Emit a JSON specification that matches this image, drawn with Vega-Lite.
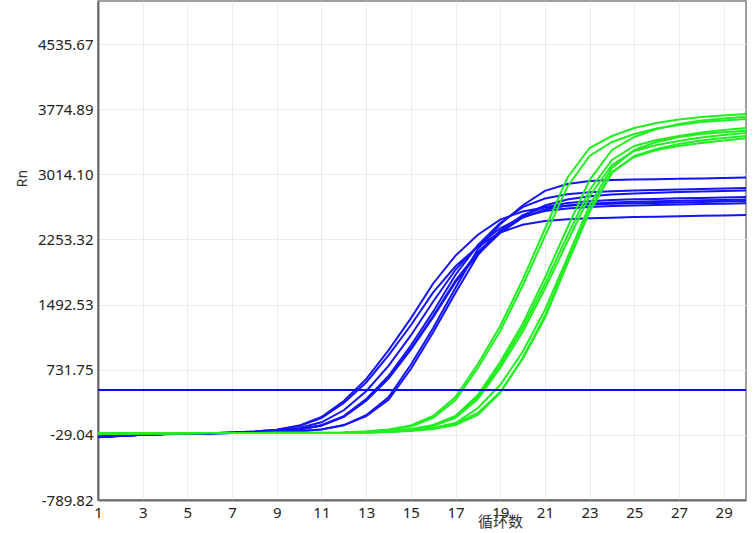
{
"$schema": "https://vega.github.io/schema/vega-lite/v6.json",
"width": 648, "height": 499,
"autosize": {"type": "none"},
"padding": {"left": 98, "top": 1, "right": 9, "bottom": 33},
"background": "white",
"config": {"view": {"stroke": "#808080", "strokeWidth": 1.5}, "font": "Noto Sans"},
"layer": [
{"data": {"values": [
{"s":"B1","g":"b","c":1,"v":-54},{"s":"B1","g":"b","c":2,"v":-40},{"s":"B1","g":"b","c":3,"v":-28},{"s":"B1","g":"b","c":4,"v":-20},{"s":"B1","g":"b","c":5,"v":-14},{"s":"B1","g":"b","c":6,"v":-9},{"s":"B1","g":"b","c":7,"v":-1},{"s":"B1","g":"b","c":8,"v":11},{"s":"B1","g":"b","c":9,"v":32},{"s":"B1","g":"b","c":10,"v":79},{"s":"B1","g":"b","c":11,"v":179},{"s":"B1","g":"b","c":12,"v":366},{"s":"B1","g":"b","c":13,"v":621},{"s":"B1","g":"b","c":14,"v":958},{"s":"B1","g":"b","c":15,"v":1332},{"s":"B1","g":"b","c":16,"v":1739},{"s":"B1","g":"b","c":17,"v":2064},{"s":"B1","g":"b","c":18,"v":2309},{"s":"B1","g":"b","c":19,"v":2485},{"s":"B1","g":"b","c":20,"v":2580},{"s":"B1","g":"b","c":21,"v":2626},{"s":"B1","g":"b","c":22,"v":2648},{"s":"B1","g":"b","c":23,"v":2661},{"s":"B1","g":"b","c":24,"v":2669},{"s":"B1","g":"b","c":25,"v":2675},{"s":"B1","g":"b","c":26,"v":2680},{"s":"B1","g":"b","c":27,"v":2686},{"s":"B1","g":"b","c":28,"v":2691},{"s":"B1","g":"b","c":29,"v":2697},{"s":"B1","g":"b","c":30,"v":2702},
{"s":"B2","g":"b","c":1,"v":-52},{"s":"B2","g":"b","c":2,"v":-39},{"s":"B2","g":"b","c":3,"v":-27},{"s":"B2","g":"b","c":4,"v":-20},{"s":"B2","g":"b","c":5,"v":-14},{"s":"B2","g":"b","c":6,"v":-9},{"s":"B2","g":"b","c":7,"v":-1},{"s":"B2","g":"b","c":8,"v":9},{"s":"B2","g":"b","c":9,"v":30},{"s":"B2","g":"b","c":10,"v":73},{"s":"B2","g":"b","c":11,"v":168},{"s":"B2","g":"b","c":12,"v":344},{"s":"B2","g":"b","c":13,"v":583},{"s":"B2","g":"b","c":14,"v":899},{"s":"B2","g":"b","c":15,"v":1251},{"s":"B2","g":"b","c":16,"v":1634},{"s":"B2","g":"b","c":17,"v":1940},{"s":"B2","g":"b","c":18,"v":2169},{"s":"B2","g":"b","c":19,"v":2335},{"s":"B2","g":"b","c":20,"v":2424},{"s":"B2","g":"b","c":21,"v":2468},{"s":"B2","g":"b","c":22,"v":2488},{"s":"B2","g":"b","c":23,"v":2501},{"s":"B2","g":"b","c":24,"v":2508},{"s":"B2","g":"b","c":25,"v":2514},{"s":"B2","g":"b","c":26,"v":2519},{"s":"B2","g":"b","c":27,"v":2524},{"s":"B2","g":"b","c":28,"v":2529},{"s":"B2","g":"b","c":29,"v":2534},{"s":"B2","g":"b","c":30,"v":2539},
{"s":"B8","g":"b","c":1,"v":-56},{"s":"B8","g":"b","c":2,"v":-41},{"s":"B8","g":"b","c":3,"v":-29},{"s":"B8","g":"b","c":4,"v":-21},{"s":"B8","g":"b","c":5,"v":-15},{"s":"B8","g":"b","c":6,"v":-10},{"s":"B8","g":"b","c":7,"v":-5},{"s":"B8","g":"b","c":8,"v":5},{"s":"B8","g":"b","c":9,"v":19},{"s":"B8","g":"b","c":10,"v":51},{"s":"B8","g":"b","c":11,"v":118},{"s":"B8","g":"b","c":12,"v":258},{"s":"B8","g":"b","c":13,"v":481},{"s":"B8","g":"b","c":14,"v":777},{"s":"B8","g":"b","c":15,"v":1132},{"s":"B8","g":"b","c":16,"v":1528},{"s":"B8","g":"b","c":17,"v":1899},{"s":"B8","g":"b","c":18,"v":2181},{"s":"B8","g":"b","c":19,"v":2383},{"s":"B8","g":"b","c":20,"v":2518},{"s":"B8","g":"b","c":21,"v":2585},{"s":"B8","g":"b","c":22,"v":2614},{"s":"B8","g":"b","c":23,"v":2633},{"s":"B8","g":"b","c":24,"v":2644},{"s":"B8","g":"b","c":25,"v":2649},{"s":"B8","g":"b","c":26,"v":2655},{"s":"B8","g":"b","c":27,"v":2660},{"s":"B8","g":"b","c":28,"v":2666},{"s":"B8","g":"b","c":29,"v":2671},{"s":"B8","g":"b","c":30,"v":2676},
{"s":"B3","g":"b","c":1,"v":-53},{"s":"B3","g":"b","c":2,"v":-40},{"s":"B3","g":"b","c":3,"v":-28},{"s":"B3","g":"b","c":4,"v":-20},{"s":"B3","g":"b","c":5,"v":-14},{"s":"B3","g":"b","c":6,"v":-9},{"s":"B3","g":"b","c":7,"v":-6},{"s":"B3","g":"b","c":8,"v":0},{"s":"B3","g":"b","c":9,"v":12},{"s":"B3","g":"b","c":10,"v":35},{"s":"B3","g":"b","c":11,"v":84},{"s":"B3","g":"b","c":12,"v":190},{"s":"B3","g":"b","c":13,"v":388},{"s":"B3","g":"b","c":14,"v":658},{"s":"B3","g":"b","c":15,"v":1014},{"s":"B3","g":"b","c":16,"v":1410},{"s":"B3","g":"b","c":17,"v":1841},{"s":"B3","g":"b","c":18,"v":2185},{"s":"B3","g":"b","c":19,"v":2444},{"s":"B3","g":"b","c":20,"v":2630},{"s":"B3","g":"b","c":21,"v":2731},{"s":"B3","g":"b","c":22,"v":2780},{"s":"B3","g":"b","c":23,"v":2803},{"s":"B3","g":"b","c":24,"v":2817},{"s":"B3","g":"b","c":25,"v":2826},{"s":"B3","g":"b","c":26,"v":2831},{"s":"B3","g":"b","c":27,"v":2837},{"s":"B3","g":"b","c":28,"v":2843},{"s":"B3","g":"b","c":29,"v":2849},{"s":"B3","g":"b","c":30,"v":2854},
{"s":"B4","g":"b","c":1,"v":-55},{"s":"B4","g":"b","c":2,"v":-41},{"s":"B4","g":"b","c":3,"v":-28},{"s":"B4","g":"b","c":4,"v":-20},{"s":"B4","g":"b","c":5,"v":-14},{"s":"B4","g":"b","c":6,"v":-9},{"s":"B4","g":"b","c":7,"v":-6},{"s":"B4","g":"b","c":8,"v":0},{"s":"B4","g":"b","c":9,"v":11},{"s":"B4","g":"b","c":10,"v":33},{"s":"B4","g":"b","c":11,"v":80},{"s":"B4","g":"b","c":12,"v":183},{"s":"B4","g":"b","c":13,"v":374},{"s":"B4","g":"b","c":14,"v":634},{"s":"B4","g":"b","c":15,"v":977},{"s":"B4","g":"b","c":16,"v":1358},{"s":"B4","g":"b","c":17,"v":1773},{"s":"B4","g":"b","c":18,"v":2105},{"s":"B4","g":"b","c":19,"v":2354},{"s":"B4","g":"b","c":20,"v":2534},{"s":"B4","g":"b","c":21,"v":2631},{"s":"B4","g":"b","c":22,"v":2678},{"s":"B4","g":"b","c":23,"v":2700},{"s":"B4","g":"b","c":24,"v":2714},{"s":"B4","g":"b","c":25,"v":2722},{"s":"B4","g":"b","c":26,"v":2727},{"s":"B4","g":"b","c":27,"v":2733},{"s":"B4","g":"b","c":28,"v":2738},{"s":"B4","g":"b","c":29,"v":2744},{"s":"B4","g":"b","c":30,"v":2750},
{"s":"B5","g":"b","c":1,"v":-51},{"s":"B5","g":"b","c":2,"v":-39},{"s":"B5","g":"b","c":3,"v":-27},{"s":"B5","g":"b","c":4,"v":-20},{"s":"B5","g":"b","c":5,"v":-14},{"s":"B5","g":"b","c":6,"v":-9},{"s":"B5","g":"b","c":7,"v":-6},{"s":"B5","g":"b","c":8,"v":0},{"s":"B5","g":"b","c":9,"v":11},{"s":"B5","g":"b","c":10,"v":33},{"s":"B5","g":"b","c":11,"v":79},{"s":"B5","g":"b","c":12,"v":181},{"s":"B5","g":"b","c":13,"v":369},{"s":"B5","g":"b","c":14,"v":627},{"s":"B5","g":"b","c":15,"v":966},{"s":"B5","g":"b","c":16,"v":1344},{"s":"B5","g":"b","c":17,"v":1754},{"s":"B5","g":"b","c":18,"v":2083},{"s":"B5","g":"b","c":19,"v":2329},{"s":"B5","g":"b","c":20,"v":2507},{"s":"B5","g":"b","c":21,"v":2603},{"s":"B5","g":"b","c":22,"v":2649},{"s":"B5","g":"b","c":23,"v":2671},{"s":"B5","g":"b","c":24,"v":2685},{"s":"B5","g":"b","c":25,"v":2693},{"s":"B5","g":"b","c":26,"v":2699},{"s":"B5","g":"b","c":27,"v":2704},{"s":"B5","g":"b","c":28,"v":2710},{"s":"B5","g":"b","c":29,"v":2715},{"s":"B5","g":"b","c":30,"v":2721},
{"s":"B6","g":"b","c":1,"v":-54},{"s":"B6","g":"b","c":2,"v":-40},{"s":"B6","g":"b","c":3,"v":-28},{"s":"B6","g":"b","c":4,"v":-20},{"s":"B6","g":"b","c":5,"v":-14},{"s":"B6","g":"b","c":6,"v":-9},{"s":"B6","g":"b","c":7,"v":-6},{"s":"B6","g":"b","c":8,"v":-4},{"s":"B6","g":"b","c":9,"v":0},{"s":"B6","g":"b","c":10,"v":12},{"s":"B6","g":"b","c":11,"v":35},{"s":"B6","g":"b","c":12,"v":85},{"s":"B6","g":"b","c":13,"v":200},{"s":"B6","g":"b","c":14,"v":410},{"s":"B6","g":"b","c":15,"v":790},{"s":"B6","g":"b","c":16,"v":1220},{"s":"B6","g":"b","c":17,"v":1690},{"s":"B6","g":"b","c":18,"v":2140},{"s":"B6","g":"b","c":19,"v":2430},{"s":"B6","g":"b","c":20,"v":2650},{"s":"B6","g":"b","c":21,"v":2820},{"s":"B6","g":"b","c":22,"v":2900},{"s":"B6","g":"b","c":23,"v":2935},{"s":"B6","g":"b","c":24,"v":2948},{"s":"B6","g":"b","c":25,"v":2953},{"s":"B6","g":"b","c":26,"v":2957},{"s":"B6","g":"b","c":27,"v":2962},{"s":"B6","g":"b","c":28,"v":2966},{"s":"B6","g":"b","c":29,"v":2971},{"s":"B6","g":"b","c":30,"v":2976},
{"s":"B7","g":"b","c":1,"v":-53},{"s":"B7","g":"b","c":2,"v":-40},{"s":"B7","g":"b","c":3,"v":-28},{"s":"B7","g":"b","c":4,"v":-20},{"s":"B7","g":"b","c":5,"v":-14},{"s":"B7","g":"b","c":6,"v":-9},{"s":"B7","g":"b","c":7,"v":-6},{"s":"B7","g":"b","c":8,"v":-4},{"s":"B7","g":"b","c":9,"v":0},{"s":"B7","g":"b","c":10,"v":12},{"s":"B7","g":"b","c":11,"v":34},{"s":"B7","g":"b","c":12,"v":82},{"s":"B7","g":"b","c":13,"v":190},{"s":"B7","g":"b","c":14,"v":380},{"s":"B7","g":"b","c":15,"v":740},{"s":"B7","g":"b","c":16,"v":1170},{"s":"B7","g":"b","c":17,"v":1630},{"s":"B7","g":"b","c":18,"v":2070},{"s":"B7","g":"b","c":19,"v":2350},{"s":"B7","g":"b","c":20,"v":2530},{"s":"B7","g":"b","c":21,"v":2650},{"s":"B7","g":"b","c":22,"v":2720},{"s":"B7","g":"b","c":23,"v":2758},{"s":"B7","g":"b","c":24,"v":2778},{"s":"B7","g":"b","c":25,"v":2791},{"s":"B7","g":"b","c":26,"v":2800},{"s":"B7","g":"b","c":27,"v":2807},{"s":"B7","g":"b","c":28,"v":2813},{"s":"B7","g":"b","c":29,"v":2819},{"s":"B7","g":"b","c":30,"v":2825},
{"s":"G1","g":"g","c":1,"v":-15},{"s":"G1","g":"g","c":2,"v":-12},{"s":"G1","g":"g","c":3,"v":-10},{"s":"G1","g":"g","c":4,"v":-9},{"s":"G1","g":"g","c":5,"v":-8},{"s":"G1","g":"g","c":6,"v":-8},{"s":"G1","g":"g","c":7,"v":-7},{"s":"G1","g":"g","c":8,"v":-6},{"s":"G1","g":"g","c":9,"v":-5},{"s":"G1","g":"g","c":10,"v":-4},{"s":"G1","g":"g","c":11,"v":-3},{"s":"G1","g":"g","c":12,"v":-1},{"s":"G1","g":"g","c":13,"v":10},{"s":"G1","g":"g","c":14,"v":34},{"s":"G1","g":"g","c":15,"v":80},{"s":"G1","g":"g","c":16,"v":191},{"s":"G1","g":"g","c":17,"v":413},{"s":"G1","g":"g","c":18,"v":798},{"s":"G1","g":"g","c":19,"v":1242},{"s":"G1","g":"g","c":20,"v":1780},{"s":"G1","g":"g","c":21,"v":2375},{"s":"G1","g":"g","c":22,"v":2971},{"s":"G1","g":"g","c":23,"v":3321},{"s":"G1","g":"g","c":24,"v":3461},{"s":"G1","g":"g","c":25,"v":3555},{"s":"G1","g":"g","c":26,"v":3613},{"s":"G1","g":"g","c":27,"v":3654},{"s":"G1","g":"g","c":28,"v":3683},{"s":"G1","g":"g","c":29,"v":3701},{"s":"G1","g":"g","c":30,"v":3718},
{"s":"G2","g":"g","c":1,"v":-13},{"s":"G2","g":"g","c":2,"v":-11},{"s":"G2","g":"g","c":3,"v":-9},{"s":"G2","g":"g","c":4,"v":-9},{"s":"G2","g":"g","c":5,"v":-8},{"s":"G2","g":"g","c":6,"v":-7},{"s":"G2","g":"g","c":7,"v":-7},{"s":"G2","g":"g","c":8,"v":-6},{"s":"G2","g":"g","c":9,"v":-5},{"s":"G2","g":"g","c":10,"v":-4},{"s":"G2","g":"g","c":11,"v":-3},{"s":"G2","g":"g","c":12,"v":-1},{"s":"G2","g":"g","c":13,"v":10},{"s":"G2","g":"g","c":14,"v":28},{"s":"G2","g":"g","c":15,"v":69},{"s":"G2","g":"g","c":16,"v":168},{"s":"G2","g":"g","c":17,"v":378},{"s":"G2","g":"g","c":18,"v":752},{"s":"G2","g":"g","c":19,"v":1184},{"s":"G2","g":"g","c":20,"v":1710},{"s":"G2","g":"g","c":21,"v":2293},{"s":"G2","g":"g","c":22,"v":2866},{"s":"G2","g":"g","c":23,"v":3228},{"s":"G2","g":"g","c":24,"v":3391},{"s":"G2","g":"g","c":25,"v":3485},{"s":"G2","g":"g","c":26,"v":3549},{"s":"G2","g":"g","c":27,"v":3590},{"s":"G2","g":"g","c":28,"v":3625},{"s":"G2","g":"g","c":29,"v":3642},{"s":"G2","g":"g","c":30,"v":3660},
{"s":"G3","g":"g","c":1,"v":-14},{"s":"G3","g":"g","c":2,"v":-12},{"s":"G3","g":"g","c":3,"v":-10},{"s":"G3","g":"g","c":4,"v":-9},{"s":"G3","g":"g","c":5,"v":-9},{"s":"G3","g":"g","c":6,"v":-8},{"s":"G3","g":"g","c":7,"v":-8},{"s":"G3","g":"g","c":8,"v":-7},{"s":"G3","g":"g","c":9,"v":-7},{"s":"G3","g":"g","c":10,"v":-6},{"s":"G3","g":"g","c":11,"v":-6},{"s":"G3","g":"g","c":12,"v":-5},{"s":"G3","g":"g","c":13,"v":4},{"s":"G3","g":"g","c":14,"v":16},{"s":"G3","g":"g","c":15,"v":39},{"s":"G3","g":"g","c":16,"v":86},{"s":"G3","g":"g","c":17,"v":191},{"s":"G3","g":"g","c":18,"v":436},{"s":"G3","g":"g","c":19,"v":822},{"s":"G3","g":"g","c":20,"v":1266},{"s":"G3","g":"g","c":21,"v":1803},{"s":"G3","g":"g","c":22,"v":2387},{"s":"G3","g":"g","c":23,"v":2947},{"s":"G3","g":"g","c":24,"v":3298},{"s":"G3","g":"g","c":25,"v":3450},{"s":"G3","g":"g","c":26,"v":3543},{"s":"G3","g":"g","c":27,"v":3601},{"s":"G3","g":"g","c":28,"v":3642},{"s":"G3","g":"g","c":29,"v":3666},{"s":"G3","g":"g","c":30,"v":3687},
{"s":"G4","g":"g","c":1,"v":-16},{"s":"G4","g":"g","c":2,"v":-12},{"s":"G4","g":"g","c":3,"v":-10},{"s":"G4","g":"g","c":4,"v":-9},{"s":"G4","g":"g","c":5,"v":-9},{"s":"G4","g":"g","c":6,"v":-8},{"s":"G4","g":"g","c":7,"v":-8},{"s":"G4","g":"g","c":8,"v":-7},{"s":"G4","g":"g","c":9,"v":-7},{"s":"G4","g":"g","c":10,"v":-6},{"s":"G4","g":"g","c":11,"v":-6},{"s":"G4","g":"g","c":12,"v":-5},{"s":"G4","g":"g","c":13,"v":4},{"s":"G4","g":"g","c":14,"v":16},{"s":"G4","g":"g","c":15,"v":34},{"s":"G4","g":"g","c":16,"v":80},{"s":"G4","g":"g","c":17,"v":180},{"s":"G4","g":"g","c":18,"v":413},{"s":"G4","g":"g","c":19,"v":787},{"s":"G4","g":"g","c":20,"v":1219},{"s":"G4","g":"g","c":21,"v":1733},{"s":"G4","g":"g","c":22,"v":2293},{"s":"G4","g":"g","c":23,"v":2831},{"s":"G4","g":"g","c":24,"v":3181},{"s":"G4","g":"g","c":25,"v":3345},{"s":"G4","g":"g","c":26,"v":3415},{"s":"G4","g":"g","c":27,"v":3461},{"s":"G4","g":"g","c":28,"v":3502},{"s":"G4","g":"g","c":29,"v":3531},{"s":"G4","g":"g","c":30,"v":3555},
{"s":"G5","g":"g","c":1,"v":-14},{"s":"G5","g":"g","c":2,"v":-11},{"s":"G5","g":"g","c":3,"v":-10},{"s":"G5","g":"g","c":4,"v":-9},{"s":"G5","g":"g","c":5,"v":-8},{"s":"G5","g":"g","c":6,"v":-8},{"s":"G5","g":"g","c":7,"v":-8},{"s":"G5","g":"g","c":8,"v":-7},{"s":"G5","g":"g","c":9,"v":-7},{"s":"G5","g":"g","c":10,"v":-6},{"s":"G5","g":"g","c":11,"v":-6},{"s":"G5","g":"g","c":12,"v":-5},{"s":"G5","g":"g","c":13,"v":4},{"s":"G5","g":"g","c":14,"v":14},{"s":"G5","g":"g","c":15,"v":30},{"s":"G5","g":"g","c":16,"v":74},{"s":"G5","g":"g","c":17,"v":168},{"s":"G5","g":"g","c":18,"v":390},{"s":"G5","g":"g","c":19,"v":752},{"s":"G5","g":"g","c":20,"v":1172},{"s":"G5","g":"g","c":21,"v":1674},{"s":"G5","g":"g","c":22,"v":2223},{"s":"G5","g":"g","c":23,"v":2761},{"s":"G5","g":"g","c":24,"v":3123},{"s":"G5","g":"g","c":25,"v":3286},{"s":"G5","g":"g","c":26,"v":3356},{"s":"G5","g":"g","c":27,"v":3403},{"s":"G5","g":"g","c":28,"v":3444},{"s":"G5","g":"g","c":29,"v":3473},{"s":"G5","g":"g","c":30,"v":3496},
{"s":"G6","g":"g","c":1,"v":-15},{"s":"G6","g":"g","c":2,"v":-12},{"s":"G6","g":"g","c":3,"v":-10},{"s":"G6","g":"g","c":4,"v":-9},{"s":"G6","g":"g","c":5,"v":-9},{"s":"G6","g":"g","c":6,"v":-8},{"s":"G6","g":"g","c":7,"v":-8},{"s":"G6","g":"g","c":8,"v":-8},{"s":"G6","g":"g","c":9,"v":-7},{"s":"G6","g":"g","c":10,"v":-7},{"s":"G6","g":"g","c":11,"v":-7},{"s":"G6","g":"g","c":12,"v":-7},{"s":"G6","g":"g","c":13,"v":-1},{"s":"G6","g":"g","c":14,"v":7},{"s":"G6","g":"g","c":15,"v":22},{"s":"G6","g":"g","c":16,"v":51},{"s":"G6","g":"g","c":17,"v":109},{"s":"G6","g":"g","c":18,"v":285},{"s":"G6","g":"g","c":19,"v":553},{"s":"G6","g":"g","c":20,"v":939},{"s":"G6","g":"g","c":21,"v":1429},{"s":"G6","g":"g","c":22,"v":2036},{"s":"G6","g":"g","c":23,"v":2655},{"s":"G6","g":"g","c":24,"v":3088},{"s":"G6","g":"g","c":25,"v":3298},{"s":"G6","g":"g","c":26,"v":3391},{"s":"G6","g":"g","c":27,"v":3450},{"s":"G6","g":"g","c":28,"v":3485},{"s":"G6","g":"g","c":29,"v":3505},{"s":"G6","g":"g","c":30,"v":3523},
{"s":"G7","g":"g","c":1,"v":-14},{"s":"G7","g":"g","c":2,"v":-12},{"s":"G7","g":"g","c":3,"v":-10},{"s":"G7","g":"g","c":4,"v":-9},{"s":"G7","g":"g","c":5,"v":-9},{"s":"G7","g":"g","c":6,"v":-8},{"s":"G7","g":"g","c":7,"v":-8},{"s":"G7","g":"g","c":8,"v":-8},{"s":"G7","g":"g","c":9,"v":-7},{"s":"G7","g":"g","c":10,"v":-7},{"s":"G7","g":"g","c":11,"v":-7},{"s":"G7","g":"g","c":12,"v":-7},{"s":"G7","g":"g","c":13,"v":-1},{"s":"G7","g":"g","c":14,"v":7},{"s":"G7","g":"g","c":15,"v":22},{"s":"G7","g":"g","c":16,"v":49},{"s":"G7","g":"g","c":17,"v":104},{"s":"G7","g":"g","c":18,"v":226},{"s":"G7","g":"g","c":19,"v":472},{"s":"G7","g":"g","c":20,"v":857},{"s":"G7","g":"g","c":21,"v":1336},{"s":"G7","g":"g","c":22,"v":1966},{"s":"G7","g":"g","c":23,"v":2574},{"s":"G7","g":"g","c":24,"v":3029},{"s":"G7","g":"g","c":25,"v":3228},{"s":"G7","g":"g","c":26,"v":3310},{"s":"G7","g":"g","c":27,"v":3368},{"s":"G7","g":"g","c":28,"v":3409},{"s":"G7","g":"g","c":29,"v":3438},{"s":"G7","g":"g","c":30,"v":3461},
{"s":"G8","g":"g","c":1,"v":-13},{"s":"G8","g":"g","c":2,"v":-11},{"s":"G8","g":"g","c":3,"v":-10},{"s":"G8","g":"g","c":4,"v":-9},{"s":"G8","g":"g","c":5,"v":-9},{"s":"G8","g":"g","c":6,"v":-8},{"s":"G8","g":"g","c":7,"v":-8},{"s":"G8","g":"g","c":8,"v":-8},{"s":"G8","g":"g","c":9,"v":-7},{"s":"G8","g":"g","c":10,"v":-7},{"s":"G8","g":"g","c":11,"v":-7},{"s":"G8","g":"g","c":12,"v":-7},{"s":"G8","g":"g","c":13,"v":-3},{"s":"G8","g":"g","c":14,"v":4},{"s":"G8","g":"g","c":15,"v":16},{"s":"G8","g":"g","c":16,"v":39},{"s":"G8","g":"g","c":17,"v":86},{"s":"G8","g":"g","c":18,"v":203},{"s":"G8","g":"g","c":19,"v":460},{"s":"G8","g":"g","c":20,"v":869},{"s":"G8","g":"g","c":21,"v":1359},{"s":"G8","g":"g","c":22,"v":1990},{"s":"G8","g":"g","c":23,"v":2597},{"s":"G8","g":"g","c":24,"v":3041},{"s":"G8","g":"g","c":25,"v":3216},{"s":"G8","g":"g","c":26,"v":3298},{"s":"G8","g":"g","c":27,"v":3345},{"s":"G8","g":"g","c":28,"v":3380},{"s":"G8","g":"g","c":29,"v":3409},{"s":"G8","g":"g","c":30,"v":3434}
]},
"mark": {"type": "line", "strokeWidth": 2, "clip": true},
"encoding": {
"x": {"field": "c", "type": "quantitative", "scale": {"domain": [1, 30], "nice": false, "zero": false},
"axis": {"values": [1,3,5,7,9,11,13,15,17,19,21,23,25,27,29], "format": "d", "title": "循环数", "titleX": 402, "titleY": 21, "titleBaseline": "middle", "titleFont": "Noto Sans CJK SC", "titleFontSize": 15, "titleFontWeight": "normal", "titleColor": "#333333", "labelFontSize": 15, "labelColor": "#222222", "labelPadding": 5, "ticks": false, "tickSize": 0, "domainColor": "#6b6b6b", "domainWidth": 2, "gridColor": "#ebebeb", "gridWidth": 1, "labelFlush": false, "labelOverlap": false}},
"y": {"field": "v", "type": "quantitative", "scale": {"domain": [-789.82, 5038], "nice": false, "zero": false},
"axis": {"values": [-789.82, -29.04, 731.75, 1492.53, 2253.32, 3014.10, 3774.89, 4535.67], "labelExpr": "replace(format(datum.value, '.2f'), '\u2212', '-')", "title": "Rn", "titleX": -76, "titleY": 177, "titleBaseline": "middle", "titleFontSize": 14, "titleFontWeight": "normal", "titleColor": "#333333", "labelFontSize": 15, "labelColor": "#222222", "labelPadding": 5, "ticks": false, "tickSize": 0, "domainColor": "#6b6b6b", "domainWidth": 2, "gridColor": "#ebebeb", "gridWidth": 1, "labelFlush": false, "labelOverlap": false}},
"color": {"field": "g", "type": "nominal", "scale": {"domain": ["b", "g"], "range": ["#1414f5", "#22ee22"]}, "legend": null},
"detail": {"field": "s"},
"order": {"field": "c"}
}},
{"data": {"values": [{"t": 495}]},
"mark": {"type": "rule", "color": "#0a0af5", "strokeWidth": 1.8},
"encoding": {"y": {"field": "t", "type": "quantitative"}}}
]
}
